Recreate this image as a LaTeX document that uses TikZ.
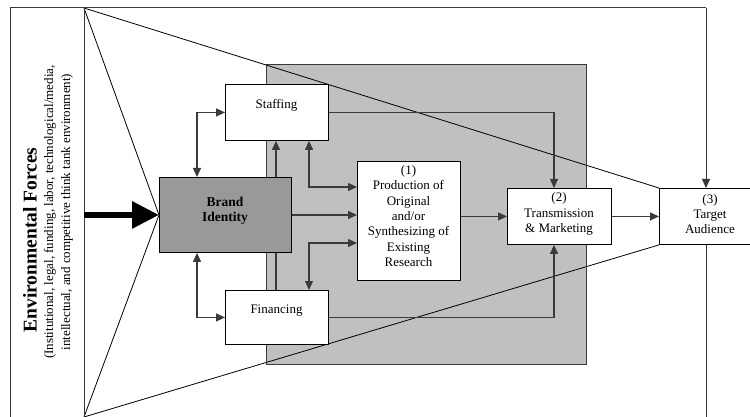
\documentclass[tikz,border=0pt]{standalone}
\usepackage{fontspec}
\setmainfont{Liberation Serif}
\usetikzlibrary{arrows.meta,backgrounds}
\definecolor{corefill}{HTML}{C0C0C0}
\definecolor{brandfill}{HTML}{999999}
\definecolor{connc}{HTML}{3A3A3A}
\tikzset{
  box/.style={draw=black, line width=0.9pt, fill=white, inner sep=0pt, anchor=north west},
  conn/.style={draw=connc, line width=1.2pt},
  tip/.style={-{Triangle[length=9pt,width=8pt]}},
  tips/.style={{Triangle[length=9pt,width=8pt]}-{Triangle[length=9pt,width=8pt]}},
  diag/.style={draw=black, line width=0.8pt},
  frame/.style={draw=connc, line width=1pt},
  lbl/.style={align=center, inner sep=0pt}
}
\begin{document}
\begin{tikzpicture}[x=1pt,y=-1pt,font=\fontsize{13}{15.4}\selectfont]
\useasboundingbox (0,0) rectangle (750,417);
\coordinate (pTL) at (84,8);
\coordinate (pBL) at (84,417);
\coordinate (fTR) at (706,8);
\coordinate (fBR) at (706,425);
% boxes
\node[box, minimum width=103pt, minimum height=56pt] (staff) at (225,84) {};
\node[box, fill=brandfill, minimum width=132pt, minimum height=75pt] (brand) at (159,177) {};
\node[box, minimum width=103pt, minimum height=54pt] (fin) at (225,290) {};
\node[box, minimum width=103pt, minimum height=119pt] (prod) at (357,161) {};
\node[box, minimum width=104pt, minimum height=56pt] (trans) at (507,188) {};
\node[box, minimum width=102pt, minimum height=56pt] (target) at (659,188) {};
\begin{pgfonlayer}{background}
  \draw[draw=connc, line width=1pt, fill=corefill] (266,65) rectangle (586,364);
  \draw[diag] (pTL) -- (brand.west);
  \draw[diag] (pBL) -- (brand.west);
  \draw[diag] (pTL) -- (target.north west);
  \draw[diag] (pBL) -- (target.south west);
  \draw[conn, tip] ([xshift=51pt]fin.north west) -- ([xshift=51pt]staff.south west);
\end{pgfonlayer}
% frame
\draw[frame] (10,425) -- (10,8) -- (fTR);
\draw[frame] (pTL) -- (84,425);
% labels
\node[lbl] (staffT) at (276.5,105) {Staffing};
\node[lbl] (finT) at (276.5,311) {Financing};
\node[lbl, font=\fontsize{13.5}{15.4}\selectfont\bfseries] (brandT) at (225,210.5) {Brand\\Identity};
\node[lbl] (prodT) at (408.5,216) {(1)\\Production of\\Original\\and/or\\Synthesizing of\\Existing\\Research};
\node[lbl] (transT) at (559,214) {(2)\\Transmission\\\&~Marketing};
\node[lbl] (targetT) at (710,214) {(3)\\Target\\Audience};
\node[lbl, rotate=90, font=\fontsize{19.5}{21}\selectfont\bfseries] (envT) at (30,240) {Environmental Forces};
\node[lbl, rotate=90, font=\fontsize{13}{15}\selectfont] (envA) at (50,212) {(Institutional, legal, funding, labor, technological/media,};
\node[lbl, rotate=90, font=\fontsize{13}{15}\selectfont] (envB) at (67,212) {intellectual, and competitive think tank environment)};
% connectors
\draw[conn, tips] (staff.west) -| ([xshift=38pt]brand.north west);
\draw[conn, tips] ([xshift=38pt]brand.south west) |- (fin.west);
\draw[conn, tips] ([xshift=84pt]staff.south west) |- ([yshift=-26pt]prod.north west);
\draw[conn, tip] (brand.east) -- (brand.east -| prod.west);
\draw[conn, tips] ([xshift=84pt]fin.north west) |- ([yshift=-82pt]prod.north west);
\draw[conn, tip] (trans.west -| prod.east) -- (trans.west);
\draw[conn, tip] (staff.east) -| ([xshift=47pt]trans.north west);
\draw[conn, tip] (fin.east) -| ([xshift=47pt]trans.south west);
\draw[conn, tip] (trans.east) -- (target.west);
\draw[frame, tip] (fTR) -- ([xshift=47pt]target.north west);
\draw[frame] ([xshift=47pt]target.south west) -- (fBR);
\draw[line width=6pt, -{Triangle[length=27pt,width=26pt]}] (pTL |- brand.west) -- (brand.west);
\end{tikzpicture}
\end{document}
